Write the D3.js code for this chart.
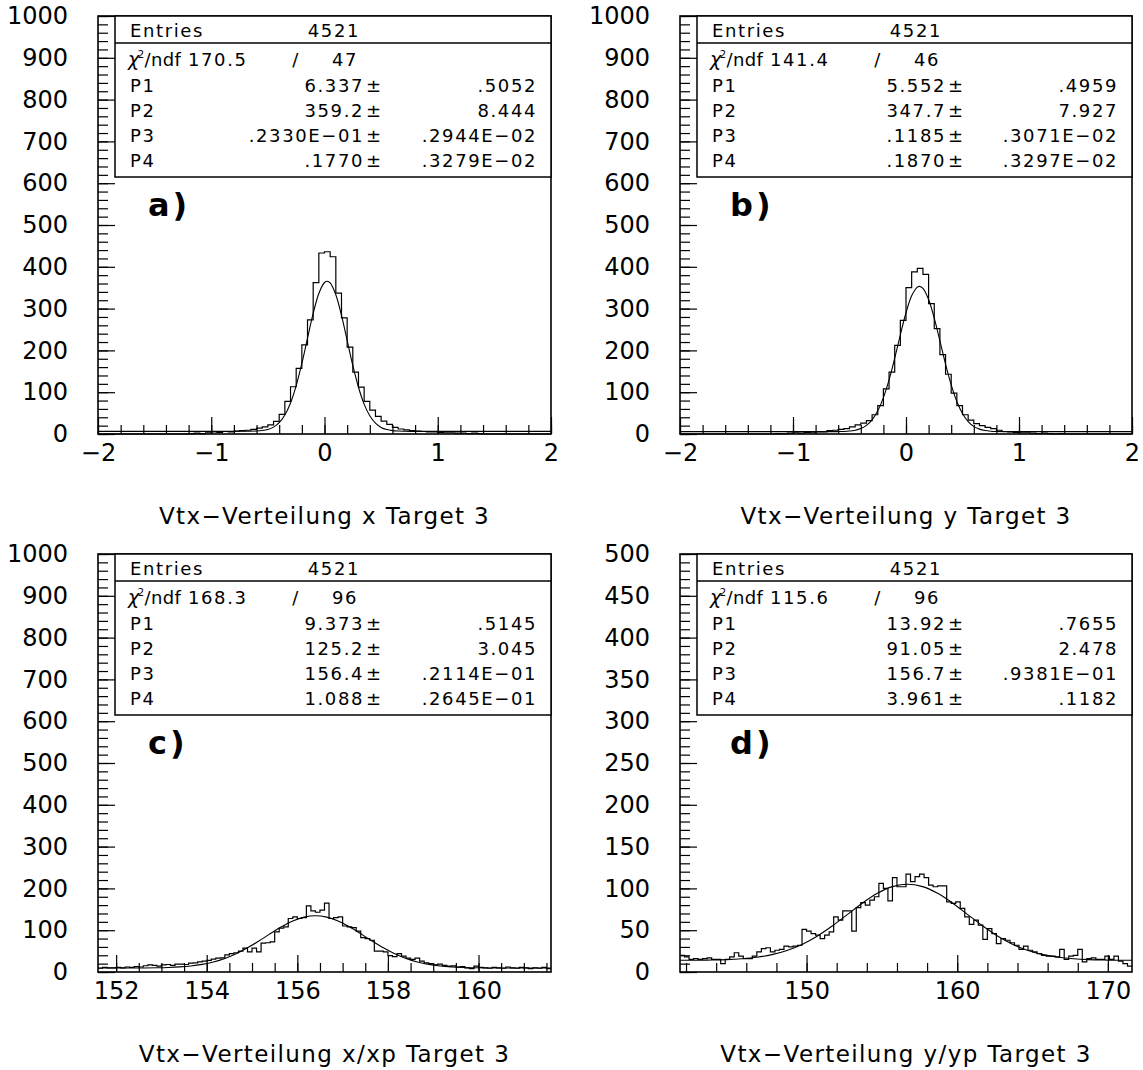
<!DOCTYPE html>
<html>
<head>
<meta charset="utf-8">
<script src="https://cdn.jsdelivr.net/npm/d3@7"></script>
<style>
  body { margin: 0; background: #fff; }
  svg { display: block; }
</style>
</head>
<body>
<svg id="chart" width="1143" height="1070"></svg>
<script>
const WIDTH = 1143;
const HEIGHT = 1070;
const FONT = '"DejaVu Sans", sans-serif';

// bin contents (80 bins of 0.05 for a/b, 100 bins for c/d)
const countsA = [0,0,0,0,0,0,0,0,0,0,0,0,0,0,0,0,
  1,2,1,3,5,4,6,5,7,8,
  9,11,14,17,22,30,47,78,113,157,
  213,273,362,433,436,424,337,278,208,148,
  112,78,57,42,31,23,16,12,10,8,
  7,6,5,5,4,3,3,2,2,1,
  2,1,
  0,0,0,0,0,0,0,0,0,0,0,0];
const countsB = [0,0,0,0,0,0,0,0,0,0,0,0,0,0,0,0,
  0,1,0,2,3,2,4,3,5,5,
  8,9,11,13,17,22,26,32,46,68,
  108,148,212,272,350,388,396,382,312,252,
  190,143,98,68,46,33,25,20,16,13,
  9,6,5,4,3,3,2,1,2,1,
  0,1,
  0,0,0,0,0,0,0,0,0,0,0,0];
const countsC = [9,11,10,10,11,10,12,11,13,12,
  15,17,16,14,17,18,16,19,19,18,
  21,22,24,26,28,31,33,34,41,44,
  46,50,57,48,57,48,69,70,72,96,
  105,108,128,132,128,130,158,146,143,148,
  165,128,130,132,110,108,106,98,82,80,
  76,50,50,48,39,37,44,38,33,30,
  33,26,22,20,17,19,16,14,15,12,
  13,10,8,14,11,10,9,11,10,9,
  12,10,9,11,10,8,10,9,11,8];
const countsD = [20,18,15,16,15,16,17,15,15,10,
  15,18,23,19,16,16,19,24,28,29,
  24,26,27,31,30,31,32,51,49,46,
  44,40,44,48,66,62,73,73,49,77,
  83,80,86,90,106,100,85,113,102,102,
  117,108,114,117,113,104,102,103,103,84,
  82,84,76,66,57,62,56,39,52,46,
  34,40,38,35,32,27,31,26,24,22,
  20,19,19,18,27,15,19,20,27,12,
  16,17,15,15,19,15,19,13,10,7];

const fitXA = [-2,-1,-0.8,-0.6,-0.55,-0.5,-0.45,-0.4,-0.35,-0.3,-0.25,-0.2,-0.15,-0.1,-0.05,0,0.025,0.05,0.1,0.15,0.2,0.25,0.3,0.35,0.4,0.45,0.5,0.55,0.6,0.65,0.7,0.8,1,2];
const fitYA = [6.3,6.3,6.4,7.1,8.2,10.9,16.4,27.0,45.3,74.2,115.7,168.7,229.2,288.5,336.3,362.5,365.5,361.4,333.1,284.0,224.2,164.1,111.9,71.5,43.5,25.9,15.8,10.6,8.1,7.0,6.5,6.3,6.3,6.3];
const fitXB = [-2,-1,-0.7,-0.6,-0.55,-0.5,-0.45,-0.4,-0.35,-0.3,-0.25,-0.2,-0.15,-0.1,-0.05,0,0.05,0.1,0.12,0.15,0.2,0.25,0.3,0.35,0.4,0.45,0.5,0.55,0.6,0.65,0.7,0.75,0.8,0.9,1,2];
const fitYB = [5.6,5.6,5.6,5.8,6.1,7.0,9.0,13.0,20.7,34.0,55.4,87.1,129.5,181.3,237.3,290.0,330.7,351.5,353.2,348.4,321.8,277.1,222.6,167.2,117.5,77.8,49.0,29.8,18.2,11.7,8.3,6.7,6.0,5.6,5.6,5.6];
const fitXC = [151.6,152,152.4,152.9,153.15,153.4,153.65,153.9,154.15,154.4,154.65,154.9,155.15,155.4,155.65,155.9,156.15,156.4,156.65,156.9,157.15,157.4,157.65,157.9,158.15,158.4,158.65,158.9,159.15,159.4,159.65,159.9,160.4,161,161.6];
const fitYC = [9.4,9.4,9.5,10.1,10.8,12.2,14.5,18.3,24.1,32.5,43.7,57.8,74.1,91.4,108.1,122.0,131.3,134.6,131.3,122.0,108.1,91.4,74.1,57.8,43.7,32.5,24.1,18.3,14.5,12.2,10.8,10.1,9.5,9.4,9.4];
const fitXD = [141.6,142.7,143.7,144.7,145.7,146.7,147.7,148.7,149.7,150.7,151.7,152.7,153.7,154.7,155.7,156.7,157.7,158.7,159.7,160.7,161.7,162.7,163.7,164.7,165.7,166.7,167.7,168.7,169.7,170.7,171.6];
const fitYD = [14.0,14.1,14.3,14.8,15.9,17.7,20.8,25.8,33.0,42.8,55.0,68.6,82.3,94.1,102.1,105.0,102.1,94.1,82.3,68.6,55.0,42.8,33.0,25.8,20.8,17.7,15.9,14.8,14.3,14.1,14.0];

// tick labels
const xMajorA = [-2, -1, 0, 1, 2];
const xMajorC = [152, 154, 156, 158, 160];
const xMajorD = [150, 160, 170];
const yMajor1000 = [0, 100, 200, 300, 400, 500, 600, 700, 800, 900, 1000];
const yMajor500 = [0, 50, 100, 150, 200, 250, 300, 350, 400, 450, 500];

// fit box texts
const paramNames = ['P1', 'P2', 'P3', 'P4'];
const entries = ['4521', '4521', '4521', '4521'];
const chi2 = ['170.5', '141.4', '168.3', '115.6'];
const ndf = ['47', '46', '96', '96'];
const paramValues = [
  ['6.337', '359.2', '.2330E\u221201', '.1770'],
  ['5.552', '347.7', '.1185', '.1870'],
  ['9.373', '125.2', '156.4', '1.088'],
  ['13.92', '91.05', '156.7', '3.961']
];
const paramErrors = [
  ['.5052', '8.444', '.2944E\u221202', '.3279E\u221202'],
  ['.4959', '7.927', '.3071E\u221202', '.3297E\u221202'],
  ['.5145', '3.045', '.2114E\u221201', '.2645E\u221201'],
  ['.7655', '2.478', '.9381E\u221201', '.1182']
];
const letters = ['a)', 'b)', 'c)', 'd)'];
const titles = [
  'Vtx\u2212Verteilung x Target 3',
  'Vtx\u2212Verteilung y Target 3',
  'Vtx\u2212Verteilung x/xp Target 3',
  'Vtx\u2212Verteilung y/yp Target 3'
];

const LEFT_COL = { left: 98, right: 551 };
const RIGHT_COL = { left: 680, right: 1132 };
const TOP_ROW = { top: 16, bottom: 434 };
const BOTTOM_ROW = { top: 554, bottom: 972 };

const panels = [
  { ...LEFT_COL, ...TOP_ROW, counts: countsA, fitX: fitXA, fitY: fitYA, xDomain: [-2, 2], yMax: 1000,
    xMajor: xMajorA, xMinor: [-2, 2, 0.2], yMajor: yMajor1000, yMinorStep: 20 },
  { ...RIGHT_COL, ...TOP_ROW, counts: countsB, fitX: fitXB, fitY: fitYB, xDomain: [-2, 2], yMax: 1000,
    xMajor: xMajorA, xMinor: [-2, 2, 0.2], yMajor: yMajor1000, yMinorStep: 20 },
  { ...LEFT_COL, ...BOTTOM_ROW, counts: countsC, fitX: fitXC, fitY: fitYC, xDomain: [151.6, 161.6], yMax: 1000,
    xMajor: xMajorC, xMinor: [152, 161.5, 0.5], yMajor: yMajor1000, yMinorStep: 20 },
  { ...RIGHT_COL, ...BOTTOM_ROW, counts: countsD, fitX: fitXD, fitY: fitYD, xDomain: [141.6, 171.6], yMax: 500,
    xMajor: xMajorD, xMinor: [142, 170, 2], yMajor: yMajor500, yMinorStep: 10 }
];

function steps (start, stop, step) {
  const n = Math.round((stop - start) / step);
  return d3.range(n + 1).map(i => +(start + i * step).toFixed(4));
}

function styleAxis (g) {
  g.select('.domain').remove();
  g.selectAll('line').attr('stroke', '#000').attr('stroke-width', 1.2);
  g.attr('font-family', FONT).attr('font-size', 24);
  g.selectAll('text').attr('fill', '#000');
}

const svg = d3.select('#chart');
svg.append('rect').attr('width', WIDTH).attr('height', HEIGHT).attr('fill', '#fff');

function drawPanel (p, n) {
  const g = svg.append('g');
  const x = d3.scaleLinear().domain(p.xDomain).range([p.left, p.right]);
  const y = d3.scaleLinear().domain([0, p.yMax]).range([p.bottom, p.top]);

  // x axis, ticks pointing up into the frame
  g.append('g')
    .attr('transform', `translate(0,${p.bottom})`)
    .call(d3.axisBottom(x).tickValues(steps(...p.xMinor)).tickSize(-9).tickFormat(''))
    .call(styleAxis);
  g.append('g')
    .attr('transform', `translate(0,${p.bottom})`)
    .call(d3.axisBottom(x).tickValues(p.xMajor).tickSize(-17).tickPadding(10).tickFormat(d3.format('d')))
    .call(styleAxis);

  // y axis, ticks pointing right
  g.append('g')
    .attr('transform', `translate(${p.left},0)`)
    .call(d3.axisLeft(y).tickValues(steps(0, p.yMax, p.yMinorStep)).tickSize(-10).tickFormat(''))
    .call(styleAxis);
  g.append('g')
    .attr('transform', `translate(${p.left},0)`)
    .call(d3.axisLeft(y).tickValues(p.yMajor).tickSize(-17).tickPadding(30).tickFormat(d3.format('d')))
    .call(styleAxis);

  // histogram outline
  const binW = (p.xDomain[1] - p.xDomain[0]) / p.counts.length;
  const pts = p.counts.map((c, i) => [p.xDomain[0] + i * binW, c]);
  pts.push([p.xDomain[1], p.counts[p.counts.length - 1]]);
  const step = d3.line().x(d => x(d[0])).y(d => y(d[1])).curve(d3.curveStepAfter);
  g.append('path').datum(pts)
    .attr('d', step)
    .attr('fill', 'none').attr('stroke', '#000').attr('stroke-width', 1.2);

  // fit curve
  const fit = d3.line().x(d => x(d[0])).y(d => y(d[1])).curve(d3.curveCatmullRom);
  g.append('path').datum(p.fitX.map((v, i) => [v, p.fitY[i]]))
    .attr('d', fit)
    .attr('fill', 'none').attr('stroke', '#000').attr('stroke-width', 1.1);

  // frame
  g.append('rect')
    .attr('x', p.left).attr('y', p.top)
    .attr('width', p.right - p.left).attr('height', p.bottom - p.top)
    .attr('fill', 'none').attr('stroke', '#000').attr('stroke-width', 1.6);

  // fit result box
  const bx = p.left + 17;
  const box = g.append('g').attr('font-family', FONT).attr('font-size', 18)
    .attr('letter-spacing', 1.6).attr('fill', '#000');
  box.append('rect')
    .attr('x', bx).attr('y', p.top)
    .attr('width', p.right - bx).attr('height', 161)
    .attr('fill', '#fff').attr('stroke', '#000').attr('stroke-width', 1.5);
  box.append('line')
    .attr('x1', bx).attr('x2', p.right)
    .attr('y1', p.top + 27).attr('y2', p.top + 27)
    .attr('stroke', '#000').attr('stroke-width', 1.5);

  box.append('text').attr('x', p.left + 32).attr('y', p.top + 21).text('Entries');
  box.append('text').attr('x', p.left + 262).attr('y', p.top + 21)
    .attr('text-anchor', 'end').text(entries[n]);

  const chi = box.append('text').attr('x', p.left + 30).attr('y', p.top + 50)
    .attr('letter-spacing', 0.4);
  chi.append('tspan').attr('font-style', 'italic').attr('font-size', 19).text('\u03c7');
  chi.append('tspan').attr('font-size', 10).attr('dy', -8).attr('dx', -2).text('2');
  chi.append('tspan').attr('dy', 8).text('/ndf');
  box.append('text').attr('x', p.left + 90).attr('y', p.top + 50).text(chi2[n]);
  box.append('text').attr('x', p.left + 198).attr('y', p.top + 50).attr('text-anchor', 'middle').text('/');
  box.append('text').attr('x', p.left + 260).attr('y', p.top + 50)
    .attr('text-anchor', 'end').text(ndf[n]);

  paramNames.forEach((name, i) => {
    const ty = p.top + 75.5 + i * 25.3;
    box.append('text').attr('x', p.left + 32).attr('y', ty).text(name);
    box.append('text').attr('x', p.left + 266).attr('y', ty)
      .attr('text-anchor', 'end').text(paramValues[n][i]);
    box.append('text').attr('x', p.left + 268).attr('y', ty).text('\u00b1');
    box.append('text').attr('x', p.right - 14).attr('y', ty)
      .attr('text-anchor', 'end').text(paramErrors[n][i]);
  });

  // panel letter
  g.append('text')
    .attr('x', p.left + 50).attr('y', p.top + 200)
    .attr('font-family', FONT).attr('font-size', 32).attr('font-weight', 'bold')
    .attr('letter-spacing', 3)
    .text(letters[n]);

  // title under the axis
  g.append('text')
    .attr('x', (p.left + p.right) / 2).attr('y', p.top + 508)
    .attr('text-anchor', 'middle')
    .attr('font-family', FONT).attr('font-size', 23).attr('letter-spacing', 1.4)
    .text(titles[n]);
}

panels.forEach(drawPanel);
</script>
</body>
</html>
